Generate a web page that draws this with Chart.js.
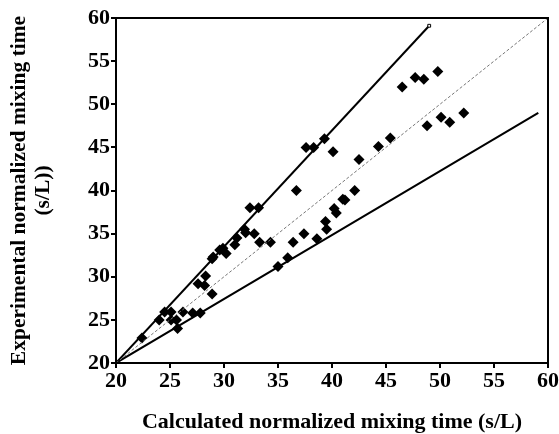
<!DOCTYPE html>
<html>
<head>
<meta charset="utf-8">
<script src="https://cdn.jsdelivr.net/npm/chart.js@4/dist/chart.umd.min.js"></script>
<style>
  html, body { margin: 0; padding: 0; background: #fff; }
  #wrap { width: 559px; height: 434px; }
</style>
</head>
<body>
<div id="wrap"><canvas id="chart" width="559" height="434"></canvas></div>
<script>
// Measured points (calculated vs experimental)
const calcX = [22.4, 24.0, 24.5, 25.1, 25.1, 25.6, 25.7, 26.2, 27.1, 27.8,
  27.6, 28.3, 28.2, 28.9, 28.9, 29.0, 29.6, 29.9, 30.2, 31.0,
  31.2, 31.9, 32.0, 32.4, 33.2, 32.8, 33.3, 34.3, 35.0, 35.9,
  36.4, 36.7, 37.4, 37.6, 38.3, 38.6, 39.3, 39.4, 39.5, 40.1,
  40.2, 40.4, 41.0, 41.2, 42.1, 42.5, 44.3, 45.4, 46.5, 47.7,
  48.5, 48.8, 49.8, 50.1, 50.9, 52.2];
const expY = [22.9, 25.0, 25.9, 25.9, 25.0, 25.0, 24.0, 25.9, 25.8, 25.8,
  29.2, 30.1, 29.0, 28.0, 32.1, 32.3, 33.1, 33.3, 32.7, 33.7,
  34.5, 35.5, 35.1, 38.0, 38.0, 35.0, 34.0, 34.0, 31.2, 32.2,
  34.0, 40.0, 35.0, 45.0, 45.0, 34.4, 46.0, 36.4, 35.5, 44.5,
  37.9, 37.4, 39.0, 38.9, 40.0, 43.6, 45.1, 46.1, 52.0, 53.1,
  52.9, 47.5, 53.8, 48.5, 47.9, 49.0];

// Reference lines
const upperX = [20, 49.0];
const upperY = [20, 59.1];
const lowerX = [20, 59.1];
const lowerY = [20, 49.0];
const diagX = [20, 60];
const diagY = [20, 60];

const xTicks = [20, 25, 30, 35, 40, 45, 50, 55, 60];
const yTicks = [20, 25, 30, 35, 40, 45, 50, 55, 60];

const toXY = (xs, ys) => xs.map((x, i) => ({ x: x, y: ys[i] }));

const serif = '"Liberation Serif", "Times New Roman", serif';

// box around the plot area
const frame = {
  id: 'frame',
  afterDraw(chart) {
    const a = chart.chartArea;
    const c = chart.ctx;
    c.save();
    c.strokeStyle = '#000';
    c.lineWidth = 2;
    c.strokeRect(a.left, a.top, a.right - a.left, a.bottom - a.top);
    c.restore();
  }
};

new Chart(document.getElementById('chart'), {
  type: 'scatter',
  data: {
    datasets: [
      {
        label: 'y = x',
        data: toXY(diagX, diagY),
        showLine: true,
        borderColor: '#777',
        borderWidth: 1,
        borderDash: [3, 2],
        pointRadius: 0
      },
      {
        label: 'upper',
        data: toXY(upperX, upperY),
        showLine: true,
        borderColor: '#000',
        borderWidth: 2,
        pointRadius: [0, 2],
        pointStyle: 'rect',
        pointBackgroundColor: '#fff',
        pointBorderColor: '#000',
        pointBorderWidth: 1
      },
      {
        label: 'lower',
        data: toXY(lowerX, lowerY),
        showLine: true,
        borderColor: '#000',
        borderWidth: 2,
        pointRadius: 0
      },
      {
        label: 'data',
        data: toXY(calcX, expY),
        pointStyle: 'rectRot',
        pointRadius: 5.5,
        backgroundColor: '#000',
        borderColor: '#000',
        borderWidth: 0
      }
    ]
  },
  options: {
    responsive: false,
    animation: false,
    layout: { padding: { top: 18, right: 11, left: 0, bottom: 0 } },
    plugins: {
      legend: { display: false },
      tooltip: { enabled: false }
    },
    scales: {
      x: {
        type: 'linear',
        min: 20,
        max: 60,
        afterBuildTicks: (s) => { s.ticks = xTicks.map(v => ({ value: v })); },
        afterFit: (s) => { s.height = 71; },
        grid: { display: true, drawOnChartArea: false, drawTicks: true, tickLength: 5, color: '#000', lineWidth: 2 },
        border: { display: true, color: '#000', width: 2 },
        ticks: {
          color: '#000',
          padding: 0,
          maxRotation: 0,
          font: { family: serif, size: 22, weight: 'bold' }
        },
        title: {
          display: true,
          text: 'Calculated normalized mixing time (s/L)',
          color: '#000',
          padding: { top: 0, bottom: 0 },
          font: { family: serif, size: 22, weight: 'bold', lineHeight: 1.1 }
        }
      },
      y: {
        type: 'linear',
        min: 20,
        max: 60,
        afterBuildTicks: (s) => { s.ticks = yTicks.map(v => ({ value: v })); },
        afterFit: (s) => { s.width = 116; },
        grid: { display: true, drawOnChartArea: false, drawTicks: true, tickLength: 5, color: '#000', lineWidth: 2 },
        border: { display: true, color: '#000', width: 2 },
        ticks: {
          color: '#000',
          padding: 1,
          font: { family: serif, size: 22, weight: 'bold' }
        },
        title: {
          display: true,
          text: ['Experimental normalized mixing time', '(s/L))'],
          color: '#000',
          padding: { top: 8, bottom: 0 },
          font: { family: serif, size: 21.5, weight: 'bold', lineHeight: 1.1 }
        }
      }
    }
  },
  plugins: [frame]
});
</script>
</body>
</html>
